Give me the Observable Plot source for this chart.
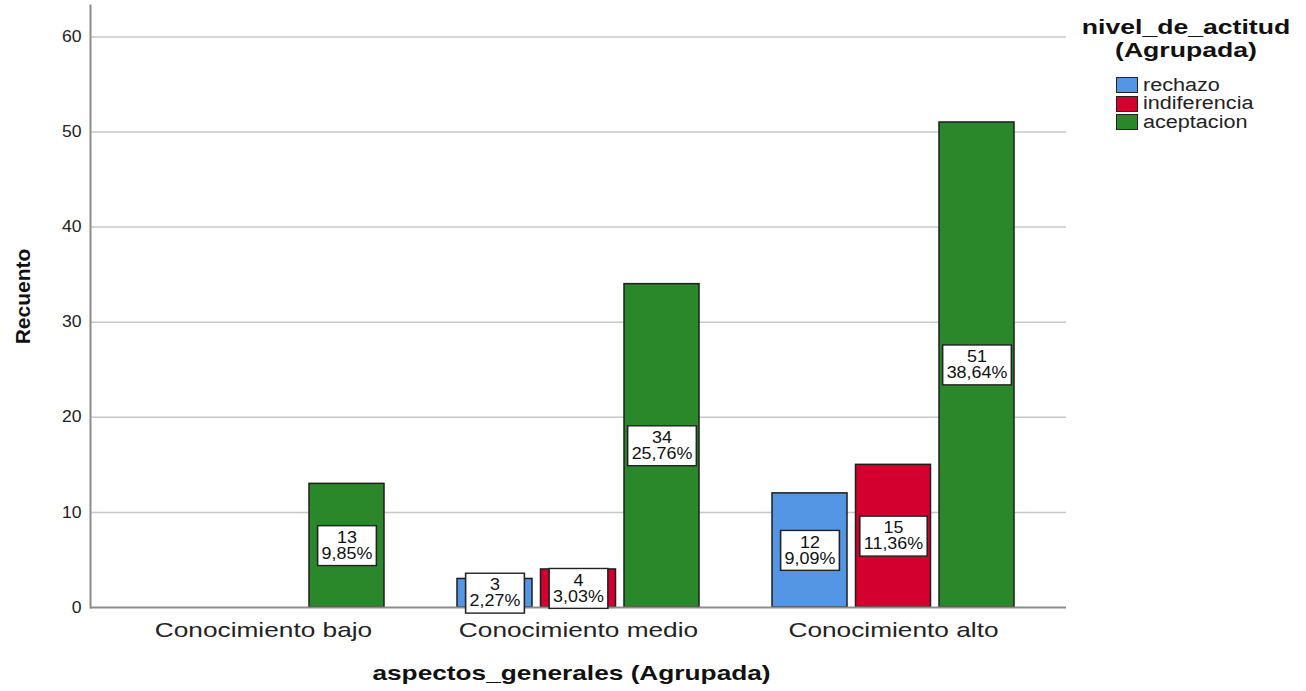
<!DOCTYPE html>
<html><head><meta charset="utf-8">
<script src="https://cdn.jsdelivr.net/npm/d3@7"></script>
<script src="https://cdn.jsdelivr.net/npm/@observablehq/plot@0.6"></script>
<style>
body{margin:0;background:#fff;font-family:"Liberation Sans",Arial,sans-serif}
#wrap{position:relative;width:1306px;height:691px;overflow:hidden}
#chart{position:absolute;left:0;top:0}
.ltitle{position:absolute;left:1086px;top:16px;width:200px;text-align:center;font-weight:bold;font-size:20px;line-height:23px;color:#111;transform:scaleX(1.33);transform-origin:50% 50%}
.lrow{position:absolute;left:1116px;height:18px;display:flex;align-items:center;white-space:nowrap}
.lsw{width:22px;height:16px;border:1.5px solid #222;box-sizing:border-box;margin-right:5px;flex:none}
.ltx{font-size:18px;color:#222;transform:scaleX(1.2);transform-origin:0 50%}
</style></head><body>
<div id="wrap"><div id="chart"></div><div id="legend"></div></div>
<script>
const categories = ["Conocimiento bajo", "Conocimiento medio", "Conocimiento alto"];
const series = ["rechazo", "indiferencia", "aceptacion"];
const colors = ["#5596E4", "#D3002F", "#2A872A"];
const rechazo = [0, 3, 12];
const indiferencia = [0, 4, 15];
const aceptacion = [13, 34, 51];
const rechazoPct = ["0,00%", "2,27%", "9,09%"];
const indiferenciaPct = ["0,00%", "3,03%", "11,36%"];
const aceptacionPct = ["9,85%", "25,76%", "38,64%"];
const yTicks = [0, 10, 20, 30, 40, 50, 60];
const legendTitle = ["nivel_de_actitud", "(Agrupada)"];
const xTitle = "aspectos_generales (Agrupada)";
const yTitle = "Recuento";

const values = [rechazo, indiferencia, aceptacion];
const pcts = [rechazoPct, indiferenciaPct, aceptacionPct];
const rowsBy = series.map((s, i) => categories.map((c, j) => ({cat: c, series: s, value: values[i][j], pct: pcts[i][j]})).filter(d => d.value > 0));

const sub = 83.5; // bar step inside a cluster (style)
const barMarks = [];
const labelMarks = [];
rowsBy.forEach((rows, i) => {
  barMarks.push(Plot.barY(rows, {x: "cat", y: "value", fill: colors[i], stroke: "#1e1e1e", strokeWidth: 1.5,
    insetLeft: i * sub, insetRight: (2 - i) * sub}));
  labelMarks.push(Plot.text(rows, {x: "cat", y: d => d.value / 2, text: d => d.value + "\n" + d.pct,
    dx: (i - 1) * sub, fontSize: 16, lineHeight: 1.0, fill: "#111"}));
});

const svg = Plot.plot({
  width: 1306, height: 691,
  marginLeft: 90, marginRight: 240, marginTop: 5, marginBottom: 84,
  style: {fontFamily: "'Liberation Sans', Arial, sans-serif", fontSize: "16px", color: "#222", background: "white"},
  x: {domain: categories, paddingInner: 0.233, paddingOuter: 0.164, label: null},
  y: {domain: [0, 63.3], label: null},
  marks: [
    Plot.ruleY(yTicks.filter(d => d > 0), {stroke: "#c8c8c8", strokeWidth: 1.5}),
    ...barMarks,
    Plot.ruleY([0], {stroke: "#8c8c8c", strokeWidth: 2}),
    Plot.frame({anchor: "left", stroke: "#8c8c8c", strokeWidth: 2}),
    Plot.axisY(yTicks, {tickSize: 0, tickPadding: 9, fontSize: 16, label: null, fill: "#222"}),
    Plot.axisX({tickSize: 0, tickPadding: 15, fontSize: 21, label: null, fill: "#222"}),
    ...labelMarks,
    Plot.text([yTitle], {text: d => d, frameAnchor: "left", textAnchor: "middle", lineAnchor: "middle", dx: -67, dy: -10, rotate: -90, fontWeight: "bold", fontSize: 21, fill: "#111"}),
    Plot.text([xTitle], {text: d => d, frameAnchor: "bottom", textAnchor: "middle", lineAnchor: "middle", dx: -7, dy: 66, fontWeight: "bold", fontSize: 21, fill: "#111"})
  ]
});
document.getElementById("chart").appendChild(svg);

function stretch(list, s) {
  list.forEach(t => {
    const x = +(t.getAttribute("x") || 0);
    const tr = t.getAttribute("transform") || "";
    t.setAttribute("transform", `${tr} translate(${x},0) scale(${s},1) translate(${-x},0)`);
  });
}
const allTexts = Array.from(svg.querySelectorAll("text"));
const barTexts = allTexts.filter(t => /%/.test(t.textContent));
const yTickTexts = allTexts.filter(t => yTicks.map(String).includes(t.textContent.trim()));
const xTickTexts = allTexts.filter(t => categories.includes(t.textContent.trim()));
const xTitleTexts = allTexts.filter(t => t.textContent.trim() === xTitle);
stretch(yTickTexts, 1.1);
stretch(xTickTexts, 1.25);
stretch(xTitleTexts, 1.25);
stretch(barTexts, 1.12);

// white boxes behind bar labels
barTexts.forEach(t => {
  const bb = t.getBBox();
  const padX = 4 / 1.12, padY = 3;
  const r = document.createElementNS("http://www.w3.org/2000/svg", "rect");
  r.setAttribute("x", bb.x - padX);
  r.setAttribute("y", bb.y - padY);
  r.setAttribute("width", bb.width + 2 * padX);
  r.setAttribute("height", bb.height + 2 * padY);
  r.setAttribute("fill", "white");
  r.setAttribute("stroke", "#222");
  r.setAttribute("stroke-width", 1.4);
  const tr = t.getAttribute("transform");
  if (tr) r.setAttribute("transform", tr);
  t.parentNode.insertBefore(r, t);
});

// legend
const lg = document.getElementById("legend");
const tt = document.createElement("div");
tt.className = "ltitle";
tt.innerHTML = legendTitle.join("<br>");
lg.appendChild(tt);
const rowTops = [76, 94.5, 113];
series.forEach((s, i) => {
  const row = document.createElement("div");
  row.className = "lrow";
  row.style.top = rowTops[i] + "px";
  const sw = document.createElement("div");
  sw.className = "lsw";
  sw.style.background = colors[i];
  const tx = document.createElement("div");
  tx.className = "ltx";
  tx.textContent = s;
  row.appendChild(sw); row.appendChild(tx);
  lg.appendChild(row);
});
</script>
</body></html>
